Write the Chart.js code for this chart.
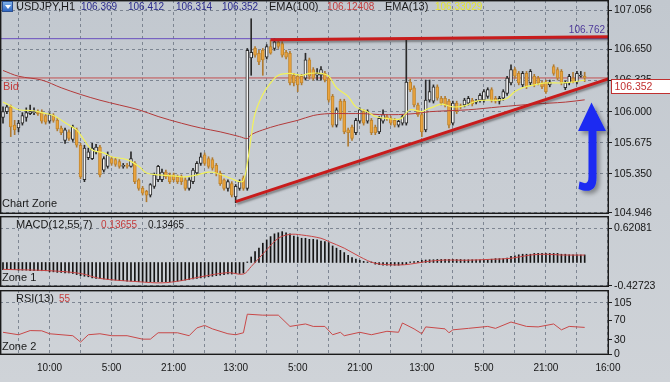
<!DOCTYPE html>
<html><head><meta charset="utf-8">
<script src="https://cdn.jsdelivr.net/npm/chart.js@4.4.1/dist/chart.umd.min.js"></script>
<style>
html,body{margin:0;padding:0;}
body{width:670px;height:382px;overflow:hidden;position:relative;background:linear-gradient(#c2c8cf,#cfd3d8);font-family:"Liberation Sans",Arial,sans-serif;}
canvas{position:absolute;left:0;}
.t{position:absolute;white-space:nowrap;line-height:13px;font-size:11px;color:#1a1a1a;}
.n{font-size:10px;}
</style></head><body>
<canvas id="cRsi" width="670" height="97" style="top:285px;z-index:1"></canvas>
<canvas id="cMacd" width="670" height="84" style="top:210px;z-index:2"></canvas>
<canvas id="cMain" width="670" height="222" style="top:0px;z-index:3"></canvas>

<div style="position:absolute;left:2px;top:1px;width:11px;height:11px;background:linear-gradient(#7fb2ea,#2f66c4);border:1px solid #2a4f90;box-sizing:border-box;z-index:5"><div style="position:absolute;left:2px;top:3px;width:0;height:0;border-left:3px solid transparent;border-right:3px solid transparent;border-top:4px solid #fff"></div></div>
<div class="t" style="left:16px;top:0;z-index:5">USDJPY,H1</div>
<div class="t n" style="left:81px;top:0;color:#2a2a8c;z-index:5">106.369</div>
<div class="t n" style="left:128px;top:0;color:#2a2a8c;z-index:5">106.412</div>
<div class="t n" style="left:176px;top:0;color:#2a2a8c;z-index:5">106.314</div>
<div class="t n" style="left:222px;top:0;color:#2a2a8c;z-index:5">106.352</div>
<div class="t" style="left:269px;top:0;z-index:5">EMA(100)</div>
<div class="t n" style="left:327px;top:0;color:#c43c3c;z-index:5">106.12408</div>
<div class="t" style="left:385px;top:0;z-index:5">EMA(13)</div>
<div class="t n" style="left:435px;top:0;color:#e6e62c;z-index:5">106.33029</div>
<div class="t" style="left:2px;top:197px;z-index:5">Chart Zone</div>
<div class="t" style="left:16px;top:218px;z-index:5">MACD(12,55,7)</div>
<div class="t n" style="left:101px;top:218px;color:#c43c3c;z-index:5">0.13655</div>
<div class="t n" style="left:148px;top:218px;z-index:5">0.13465</div>
<div class="t" style="left:2px;top:271px;z-index:5">Zone 1</div>
<div class="t" style="left:16px;top:292px;z-index:5">RSI(13)</div>
<div class="t n" style="left:59px;top:292px;color:#c43c3c;z-index:5">55</div>
<div class="t" style="left:2px;top:340px;z-index:5">Zone 2</div>

<svg width="670" height="382" style="position:absolute;left:0;top:0;z-index:6;pointer-events:none">
<defs><filter id="sh" x="-60%" y="-60%" width="220%" height="220%"><feGaussianBlur in="SourceAlpha" stdDeviation="2"/><feOffset dx="3" dy="3"/><feComponentTransfer><feFuncA type="linear" slope="0.35"/></feComponentTransfer><feMerge><feMergeNode/><feMergeNode in="SourceGraphic"/></feMerge></filter></defs>
<path d="M591.5 102.5 L606 131 L596.5 131 L596.5 178 Q596.5 193 583 190.5 L578.5 189 L579.5 181.5 L584 183 Q588.5 184 588.5 177 L588.5 131 L578 131 Z" fill="#1a2cf2" filter="url(#sh)"/>
</svg>

<script>
// ---------- DATA ----------
const candleOpen  = [105.94,106.00,106.05,105.86,105.83,105.88,105.94,105.98,105.99,106.00,105.99,105.96,105.90,105.96,105.91,105.83,105.70,105.79,105.71,105.81,105.65,105.29,105.52,105.51,105.58,105.63,105.39,105.43,105.51,105.50,105.48,105.43,105.44,105.43,105.46,105.29,105.20,105.17,105.13,105.22,105.29,105.29,105.37,105.34,105.34,105.32,105.32,105.29,105.20,105.27,105.36,105.46,105.55,105.51,105.50,105.44,105.36,105.29,105.20,105.25,105.11,105.20,105.31,105.20,106.56,106.66,106.61,106.64,106.57,106.68,106.66,106.73,106.71,106.62,106.61,106.38,106.37,106.37,106.35,106.54,106.44,106.38,106.38,106.40,106.35,106.16,105.86,106.11,106.11,105.81,105.84,105.78,105.90,106.00,105.90,105.91,105.84,105.79,105.90,105.95,105.93,105.91,105.86,105.88,105.88,106.31,106.25,106.07,105.97,105.81,106.12,106.11,106.26,106.14,106.14,106.11,105.88,106.09,106.06,106.07,106.09,106.12,106.10,106.12,106.12,106.16,106.23,106.14,106.11,106.14,106.19,106.30,106.44,106.40,106.28,106.40,106.30,106.37,106.35,106.30,106.31,106.28,106.47,106.44,106.42,106.25,106.30,106.35,106.31,106.37,106.369];
const candleHigh  = [106.05,106.07,106.07,105.91,105.91,105.99,106.04,106.07,106.04,106.02,106.02,105.97,105.99,105.98,105.93,105.85,105.83,105.81,105.86,105.83,105.67,105.65,105.62,105.67,105.66,105.65,105.53,105.58,105.53,105.52,105.50,105.46,105.46,105.58,105.48,105.30,105.22,105.18,105.25,105.36,105.44,105.40,105.39,105.36,105.36,105.34,105.34,105.31,105.31,105.41,105.48,105.57,105.57,105.53,105.52,105.46,105.38,105.30,105.29,105.27,105.24,105.29,105.33,106.66,106.97,106.68,106.64,106.66,106.70,106.75,106.76,106.76,106.73,106.64,106.63,106.40,106.39,106.39,106.61,106.56,106.46,106.45,106.47,106.42,106.37,106.18,106.04,106.13,106.13,105.83,105.86,105.93,106.04,106.02,106.02,105.93,105.86,105.95,106.02,105.97,105.95,105.93,105.92,105.97,106.75,106.34,106.27,106.09,105.99,106.33,106.33,106.28,106.28,106.16,106.16,106.13,106.11,106.11,106.08,106.14,106.16,106.14,106.13,106.19,106.23,106.25,106.25,106.16,106.16,106.23,106.37,106.49,106.46,106.42,106.42,106.42,106.44,106.39,106.37,106.32,106.33,106.33,106.49,106.46,106.44,106.32,106.39,106.41,106.42,106.42,106.412];
const candleLow   = [105.88,105.98,105.74,105.76,105.79,105.86,105.90,105.97,105.97,105.96,105.88,105.87,105.88,105.89,105.80,105.76,105.67,105.70,105.69,105.63,105.30,105.27,105.50,105.50,105.56,105.32,105.37,105.41,105.44,105.43,105.41,105.41,105.41,105.42,105.25,105.18,105.13,105.06,105.11,105.20,105.27,105.27,105.30,105.25,105.27,105.25,105.24,105.18,105.18,105.25,105.34,105.44,105.44,105.41,105.39,105.33,105.23,105.18,105.17,105.11,105.05,105.18,105.18,105.18,106.38,106.57,106.49,106.38,106.55,106.60,106.64,106.66,106.57,106.55,106.28,106.27,106.21,106.28,106.33,106.34,106.33,106.33,106.33,106.31,106.10,105.84,105.84,105.91,105.77,105.64,105.70,105.76,105.88,105.86,105.88,105.76,105.76,105.77,105.88,105.91,105.86,105.84,105.84,105.86,105.86,106.21,106.05,105.95,105.74,105.79,106.10,106.09,106.12,106.07,106.05,105.83,105.86,105.98,106.03,106.05,106.07,106.06,106.08,106.10,106.10,106.14,106.10,106.09,106.08,106.12,106.17,106.28,106.35,106.28,106.26,106.24,106.28,106.26,106.28,106.24,106.19,106.26,106.38,106.33,106.28,106.23,106.28,106.30,106.29,106.36,106.314];
const candleClose = [106.00,106.05,105.84,105.81,105.88,105.96,105.99,106.00,106.00,105.98,105.90,105.89,105.97,105.91,105.82,105.78,105.81,105.72,105.84,105.65,105.32,105.62,105.58,105.62,105.63,105.34,105.51,105.55,105.46,105.45,105.43,105.44,105.43,105.51,105.27,105.20,105.15,105.13,105.24,105.34,105.43,105.37,105.32,105.27,105.29,105.27,105.27,105.20,105.29,105.39,105.46,105.53,105.46,105.43,105.41,105.36,105.25,105.20,105.27,105.13,105.22,105.27,105.20,106.64,106.62,106.59,106.52,106.54,106.68,106.61,106.73,106.68,106.59,106.57,106.30,106.30,106.28,106.30,106.54,106.37,106.35,106.40,106.44,106.33,106.12,105.86,106.02,105.93,105.79,105.78,105.72,105.91,106.02,105.88,106.00,105.78,105.78,105.93,105.97,105.93,105.88,105.86,105.90,105.95,106.31,106.23,106.07,105.97,105.79,106.12,106.21,106.26,106.14,106.09,106.07,105.86,106.09,106.00,106.05,106.12,106.14,106.08,106.11,106.17,106.21,106.23,106.12,106.11,106.14,106.21,106.35,106.44,106.37,106.30,106.40,106.26,106.42,106.28,106.30,106.26,106.21,106.31,106.40,106.35,106.30,106.30,106.37,106.31,106.40,106.38,106.352];

const ema13Bars   = [0,2,4,8,10,13,17,19,21,23,26,28,32,35,37,40,44,47,50,53,55,59,61,62,63,64,65,67,69,71,74,77,79,82,84,86,89,91,94,96,99,102,103,105,108,109,111,113,116,119,122,125,128,130,132,134,137,140,144,147,150];
const ema13Values = [106.10,106.06,106.02,106.01,105.99,105.96,105.86,105.81,105.70,105.60,105.57,105.53,105.50,105.43,105.36,105.34,105.33,105.32,105.34,105.37,105.36,105.30,105.27,105.28,105.46,105.74,105.98,106.18,106.30,106.38,106.40,106.38,106.40,106.40,106.37,106.25,106.16,106.05,106.00,105.95,105.93,105.92,105.94,106.02,106.00,106.02,106.05,106.08,106.05,106.06,106.11,106.12,106.12,106.14,106.21,106.25,106.28,106.30,106.30,106.31,106.33];
const ema100Bars   = [0,4,10,15,20,25,30,35,40,46,51,56,61,63,64,67,71,76,80,84,89,93,97,102,106,110,120,128,137,145,150];
const ema100Values = [106.43,106.37,106.33,106.25,106.18,106.12,106.07,106.02,105.95,105.88,105.83,105.79,105.74,105.72,105.76,105.81,105.86,105.91,105.96,105.98,105.98,105.98,105.97,105.97,105.98,106.00,106.02,106.05,106.08,106.10,106.124];

const resistanceLevel = 106.762;
const bidPrice = 106.352;
const trendTopBars = [69, 'end'];   const trendTopPrices = [106.752, 106.782];
const trendLowBars = [60, 'end'];   const trendLowPrices = [105.061, 106.345];

const macdHist = [-0.13,-0.13,-0.13,-0.13,-0.14,-0.14,-0.14,-0.15,-0.15,-0.15,-0.15,-0.15,-0.17,-0.17,-0.18,-0.18,-0.19,-0.19,-0.20,-0.22,-0.24,-0.25,-0.26,-0.28,-0.29,-0.29,-0.30,-0.31,-0.32,-0.32,-0.33,-0.33,-0.34,-0.34,-0.35,-0.35,-0.35,-0.35,-0.35,-0.35,-0.35,-0.35,-0.35,-0.35,-0.35,-0.34,-0.33,-0.32,-0.31,-0.30,-0.29,-0.28,-0.27,-0.26,-0.25,-0.24,-0.23,-0.22,-0.21,-0.21,-0.20,-0.20,-0.19,0.01,0.10,0.20,0.26,0.35,0.41,0.47,0.52,0.54,0.56,0.54,0.52,0.48,0.46,0.44,0.44,0.42,0.42,0.41,0.39,0.38,0.36,0.30,0.26,0.22,0.18,0.13,0.09,0.06,0.04,0.02,0.01,0.01,-0.03,-0.04,-0.05,-0.05,-0.05,-0.05,-0.05,-0.04,-0.04,0.01,0.015,0.02,0.04,0.045,0.05,0.05,0.055,0.055,0.055,0.055,0.055,0.055,0.055,0.05,0.05,0.05,0.05,0.05,0.05,0.05,0.06,0.07,0.07,0.07,0.08,0.11,0.12,0.14,0.15,0.15,0.15,0.165,0.165,0.165,0.165,0.165,0.165,0.165,0.15,0.15,0.14,0.14,0.14,0.137,0.1366];
const macdSignalBars   = [0,12,20,25,35,41,46,51,58,62,64,68,71,74,77,82,84,88,92,96,102,105,109,114,119,126,131,136,140,144,150];
const macdSignalValues = [-0.125,-0.15,-0.20,-0.29,-0.35,-0.37,-0.33,-0.26,-0.185,-0.21,-0.075,0.23,0.44,0.51,0.50,0.44,0.38,0.26,0.105,-0.015,-0.045,-0.03,0.015,0.045,0.04,0.058,0.076,0.136,0.15,0.136,0.1347];

const rsiBars   = [0,4,7,10,12,18,20,22,25,28,32,36,38,40,45,48,50,52,54,58,60,62,63,67,71,74,78,80,83,85,87,88,92,95,99,102,103,106,108,109,114,115,116,120,125,127,131,135,138,142,144,146,150];
const rsiValues = [45,40,48.5,48,42,38,25,40,42,38,38,31,31,44,44,38,54,59,52,42,40,44,82,80,80,57,62,57,57,40,45,38,45,40,47,45,64,52,42,56,52,44,50,53,57,53,66,57,56,62,50,57,55];

const mainTicks = [104.946,105.350,105.675,106.000,106.325,106.650,107.056];
const macdTicks = [-0.42723,0.62081];
const rsiTicks  = [0,30,70,105];
const timeLabels = ['10:00','5:00','21:00','13:00','5:00','21:00','13:00','5:00','21:00','16:00'];

// ---------- LAYOUT CONSTANTS ----------
const X_MIN = -0.7736, X_MAX = 156.27;
const MAIN_MIN = 104.9324, MAIN_MAX = 107.1656;
const MACD_MIN = -0.4454, MACD_MAX = 0.8442;
const RSI_MIN = -1.4, RSI_MAX = 131.4;
const GRID = 'rgba(100,110,124,0.75)';
const AXIS_FONT = {family:'Liberation Sans', size:10.5};

const pts = (xs, ys) => xs.map((x, k) => ({x: x === 'end' ? X_MAX : x, y: ys[k]}));
const isUp = i => candleClose[i] >= candleOpen[i];

function xAxis(showLabels, h){
  const gridTicks = [];
  for (let v = 4; v <= 156; v += 8) gridTicks.push(v);
  return {
    type:'linear', min:X_MIN, max:X_MAX, position:'bottom', offset:false,
    afterBuildTicks: s => { s.ticks = gridTicks.map(v => ({value:v})); },
    afterFit: s => { s.height = h; s.paddingLeft = 0; s.paddingRight = 0; },
    grid:{color:GRID, lineWidth:1, drawTicks:false, offset:false},
    border:{display:false, dash:[3,3]},
    ticks:{display:showLabels, autoSkip:false, maxRotation:0, padding:7,
      font:{family:'Liberation Sans', size:10}, color:'#151515',
      callback: v => { const k = (v - 12) / 16; return Number.isInteger(k) ? timeLabels[k] : ''; }}
  };
}
function yAxis(min, max, tickVals, fmt, gridColorFn){
  return {
    position:'right', min, max,
    afterBuildTicks: s => { s.ticks = tickVals.map(v => ({value:v})); },
    afterFit: s => { s.width = 61; s.paddingTop = 0; s.paddingBottom = 0; },
    grid:{color: gridColorFn || GRID, lineWidth:1, drawTicks:true, tickLength:3, tickColor:'#1e1e1e', tickWidth:1, tickBorderDash:[1,0]},
    border:{display:false, dash:[3,3]},
    ticks:{autoSkip:false, padding:2, font:AXIS_FONT, color:'#151515', callback: v => fmt(v)}
  };
}
const framePlugin = { id:'frame', afterDraw(chart){
  const {ctx, chartArea:a} = chart;
  ctx.save(); ctx.strokeStyle = '#1a1a1a'; ctx.lineWidth = 1.4;
  ctx.strokeRect(Math.round(a.left)+0.7, Math.round(a.top)+0.7, Math.round(a.right-a.left)-1.4, Math.round(a.bottom-a.top)-1.4);
  ctx.restore();
}};
const shadowPlugin = { id:'lineShadow',
  beforeDatasetDraw(chart, args){
    if (chart.data.datasets[args.index].shadow) {
      const c = chart.ctx; c.save();
      c.shadowColor = 'rgba(40,40,40,0.45)'; c.shadowOffsetX = 1.5; c.shadowOffsetY = 2; c.shadowBlur = 2;
    }
  },
  afterDatasetDraw(chart, args){ if (chart.data.datasets[args.index].shadow) chart.ctx.restore(); }
};
const baseOpts = (pad) => ({
  responsive:false, animation:false, devicePixelRatio:1, events:[],
  layout:{padding:pad},
  plugins:{legend:{display:false}, tooltip:{enabled:false}}
});

// ---------- MAIN PRICE PANE ----------
const mainExtras = { id:'mainExtras', afterDraw(chart){
  const {ctx, chartArea:a, scales:{y}} = chart;
  const yr = y.getPixelForValue(resistanceLevel), yb = y.getPixelForValue(bidPrice);
  ctx.save();
  ctx.font = '10px "Liberation Sans"'; ctx.textBaseline = 'middle';
  ctx.fillStyle = '#4e3a9a'; ctx.textAlign = 'right';
  ctx.fillText(resistanceLevel.toFixed(3), a.right - 4, yr - 8);
  ctx.font = '11px "Liberation Sans"'; ctx.textAlign = 'left'; ctx.fillStyle = '#c23c3c';
  ctx.fillText('Bid', 3, yb + 9);
  const bx = a.right + 2.5, by = Math.round(yb) + 1.5;
  ctx.fillStyle = '#ffffff'; ctx.fillRect(bx, by, 70, 14);
  ctx.strokeStyle = '#c03030'; ctx.lineWidth = 1; ctx.strokeRect(bx, by, 70, 14);
  ctx.font = '10.5px "Liberation Sans"'; ctx.fillStyle = '#c23030';
  ctx.fillText(bidPrice.toFixed(3), bx + 3, by + 7.5);
  ctx.restore();
}};

new Chart(document.getElementById('cMain'), {
  type:'bar',
  data:{datasets:[
    {type:'line', order:5, data:pts([X_MIN,'end'],[resistanceLevel,resistanceLevel]), borderColor:'#6a4fc0', borderWidth:1, pointRadius:0},
    {type:'line', order:5, data:pts([X_MIN,'end'],[bidPrice,bidPrice]), borderColor:'#c45050', borderWidth:1, pointRadius:0},
    {type:'bar', order:4, grouped:false, barThickness:1,
      data:candleOpen.map((_, i) => ({x:i, y:[candleLow[i], candleHigh[i]]})),
      backgroundColor: c => isUp(c.dataIndex) ? '#2a2a2a' : '#b07a30', borderWidth:0},
    {type:'bar', order:3, grouped:false, barThickness:3, minBarLength:1,
      data:candleOpen.map((_, i) => ({x:i, y:[candleOpen[i], candleClose[i]]})),
      backgroundColor: c => isUp(c.dataIndex) ? '#f4f4f4' : '#eba43e',
      borderColor: c => isUp(c.dataIndex) ? '#2a2a2a' : '#c0862f', borderWidth:1, borderSkipped:false},
    {type:'line', order:2, data:pts(ema100Bars, ema100Values), borderColor:'#b33a3a', borderWidth:1, pointRadius:0, tension:0.35},
    {type:'line', order:1, data:pts(ema13Bars, ema13Values), borderColor:'#f2f25a', borderWidth:1.2, pointRadius:0, tension:0.35},
    {type:'line', order:0, shadow:true, data:pts(trendTopBars, trendTopPrices), borderColor:'#c81c1c', borderWidth:3, pointRadius:0},
    {type:'line', order:0, shadow:true, data:pts(trendLowBars, trendLowPrices), borderColor:'#c81c1c', borderWidth:3, pointRadius:0}
  ]},
  options:Object.assign(baseOpts({top:0,bottom:8,left:0,right:0}), {
    scales:{ x:xAxis(false, 0), y:yAxis(MAIN_MIN, MAIN_MAX, mainTicks, v => v.toFixed(3)) }
  }),
  plugins:[shadowPlugin, framePlugin, mainExtras]
});

// ---------- MACD PANE ----------
new Chart(document.getElementById('cMacd'), {
  type:'bar',
  data:{datasets:[
    {type:'bar', order:1, barThickness:1, data:macdHist.map((v, i) => ({x:i, y:v})), backgroundColor:'#141414', borderWidth:0},
    {type:'line', order:0, data:pts(macdSignalBars, macdSignalValues), borderColor:'#c84545', borderWidth:1, pointRadius:0, tension:0.35}
  ]},
  options:Object.assign(baseOpts({top:6,bottom:7,left:0,right:0}), {
    scales:{ x:xAxis(false, 0), y:yAxis(MACD_MIN, MACD_MAX, macdTicks, v => v.toFixed(5)) }
  }),
  plugins:[framePlugin]
});

// ---------- RSI PANE ----------
new Chart(document.getElementById('cRsi'), {
  type:'line',
  data:{datasets:[
    {data:pts(rsiBars, rsiValues), borderColor:'#c84848', borderWidth:1, pointRadius:0, tension:0}
  ]},
  options:Object.assign(baseOpts({top:5,bottom:0,left:0,right:0}), {
    scales:{ x:xAxis(true, 27), y:yAxis(RSI_MIN, RSI_MAX, rsiTicks, v => String(v), c => (c.tick && c.tick.value === 105) ? GRID : 'rgba(0,0,0,0)') }
  }),
  plugins:[framePlugin]
});
</script>
</body></html>
